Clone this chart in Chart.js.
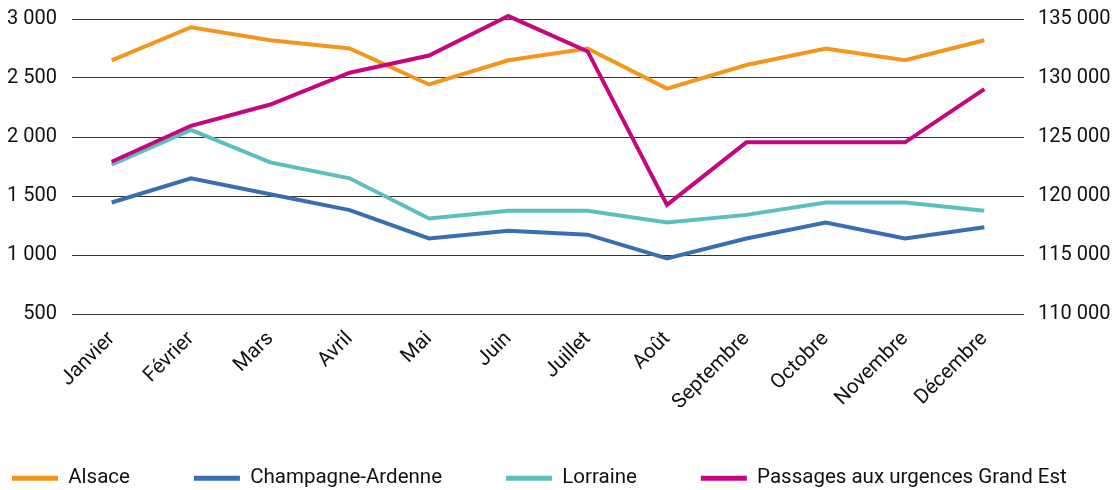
<!DOCTYPE html>
<html>
<head>
<meta charset="utf-8">
<script src="https://cdn.jsdelivr.net/npm/chart.js@4.4.0/dist/chart.umd.min.js"></script>
<style>
  html, body { margin: 0; padding: 0; background: #fff; }
  #wrap { width: 1117px; height: 490px; position: relative; }
</style>
</head>
<body>
<div id="wrap"><canvas id="c"></canvas></div>
<script>
const months = ['Janvier','Février','Mars','Avril','Mai','Juin','Juillet','Août','Septembre','Octobre','Novembre','Décembre'];
const alsace = [2650, 2930, 2820, 2750, 2445, 2650, 2750, 2410, 2610, 2750, 2650, 2820];
const champagne = [1445, 1650, 1515, 1380, 1140, 1205, 1172, 970, 1140, 1275, 1140, 1235];
const lorraine = [1765, 2060, 1785, 1650, 1310, 1375, 1375, 1275, 1340, 1445, 1445, 1375];
const passages = [122900, 125950, 127750, 130450, 131900, 135250, 132250, 119250, 124550, 124550, 124550, 129050];
const leftTicks = [500, 1000, 1500, 2000, 2500, 3000];
const rightTicks = [110000, 115000, 120000, 125000, 130000, 135000];

const fmt = v => String(v).replace(/\B(?=(\d{3})+(?!\d))/g, ' ');
const FONT = 'Roboto, "Noto Sans", sans-serif';
const LEG_PAD = 64;

const legendShift = {
  id: 'legendShift',
  afterLayout(chart) {
    const lg = chart.legend;
    if (lg) {
      lg.left += 12 - LEG_PAD;
      lg.right = 1300;
      lg.top = 480 - LEG_PAD - 12;
      lg.bottom = 490;
    }
  }
};

new Chart(document.getElementById('c'), {
  type: 'line',
  data: {
    labels: months,
    datasets: [
      { label: 'Alsace', data: alsace, borderColor: '#F3961E', backgroundColor: '#F3961E', yAxisID: 'y', order: 3 },
      { label: 'Champagne-Ardenne', data: champagne, borderColor: '#3A6EB2', backgroundColor: '#3A6EB2', yAxisID: 'y', order: 2 },
      { label: 'Lorraine', data: lorraine, borderColor: '#5BC0BB', backgroundColor: '#5BC0BB', yAxisID: 'y', order: 1 },
      { label: 'Passages aux urgences Grand Est', data: passages, borderColor: '#C6057E', backgroundColor: '#C6057E', yAxisID: 'y2', order: 0 }
    ]
  },
  options: {
    responsive: true,
    maintainAspectRatio: false,
    animation: false,
    layout: { padding: { top: 19, left: 0, right: 4, bottom: 2 } },
    elements: {
      line: { borderWidth: 4, tension: 0, borderJoinStyle: 'miter', borderCapStyle: 'butt' },
      point: { radius: 0, hoverRadius: 0 }
    },
    datasets: { line: { clip: false } },
    plugins: {
      tooltip: { enabled: false },
      legend: {
        position: 'bottom',
        align: 'start',
        maxHeight: 40,
        labels: {
          boxWidth: 46,
          boxHeight: 5,
          padding: LEG_PAD,
          color: '#111',
          font: { family: FONT, size: 20.5 },
          sort: (a, b) => a.datasetIndex - b.datasetIndex,
          generateLabels(chart) {
            const items = Chart.defaults.plugins.legend.labels.generateLabels(chart);
            items.forEach(i => { i.lineWidth = 0; });
            return items;
          }
        }
      }
    },
    scales: {
      x: {
        offset: true,
        grid: { display: false, drawTicks: false },
        border: { display: false },
        ticks: {
          color: '#111',
          font: { family: FONT, size: 20.5 },
          minRotation: 45, maxRotation: 45,
          padding: 13,
          autoSkip: false
        },
        afterFit(scale) { scale.height = 134; scale.paddingLeft = 0; scale.paddingRight = 0; }
      },
      y: {
        position: 'left',
        min: 500, max: 3000,
        afterBuildTicks(scale) { scale.ticks = leftTicks.map(v => ({ value: v })); },
        grid: { color: '#333', lineWidth: 1, drawTicks: false },
        border: { display: false },
        ticks: {
          color: '#111',
          font: { family: FONT, size: 20 },
          padding: 15,
          callback: v => fmt(v)
        },
        afterFit(scale) { scale.width = 72; scale.paddingTop = 0; scale.paddingBottom = 0; }
      },
      y2: {
        position: 'right',
        min: 110000, max: 135000,
        afterBuildTicks(scale) { scale.ticks = rightTicks.map(v => ({ value: v })); },
        grid: { display: false, drawTicks: false },
        border: { display: false },
        ticks: {
          color: '#111',
          font: { family: FONT, size: 20 },
          padding: 14,
          callback: v => fmt(v)
        },
        afterFit(scale) { scale.width = 89; scale.paddingTop = 0; scale.paddingBottom = 0; }
      }
    }
  },
  plugins: [legendShift]
});
</script>
</body>
</html>
